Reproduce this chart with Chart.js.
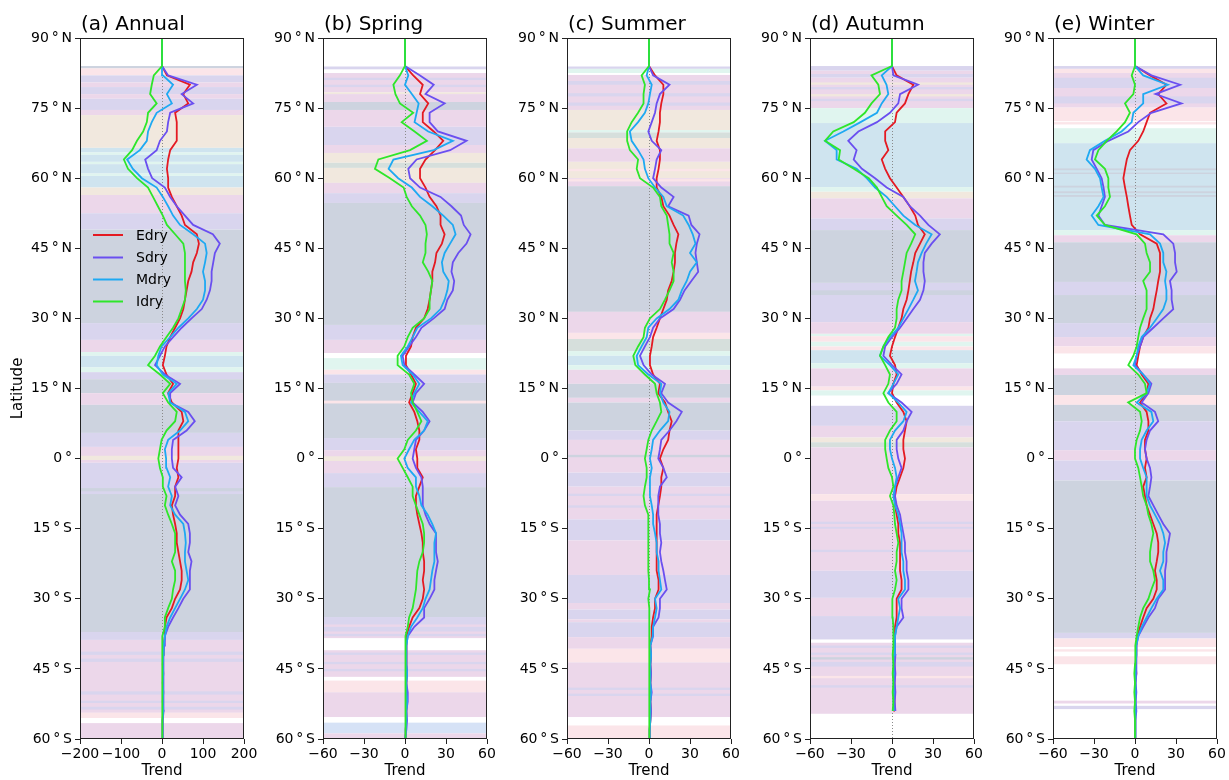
<!DOCTYPE html>
<html lang="en">
<head>
<meta charset="UTF-8">
<title>Latitudinal trend profiles</title>
<script src="https://cdn.jsdelivr.net/npm/chart.js"></script>
<style>
  body { margin: 0; background: #fff; width: 1229px; height: 780px; overflow: hidden; }
  .panel { position: absolute; top: 0; width: 259px; height: 780px; }
</style>
</head>
<body>
<div class="panel" style="left:5px"><canvas id="p0"></canvas></div>
<div class="panel" style="left:248px"><canvas id="p1"></canvas></div>
<div class="panel" style="left:492px"><canvas id="p2"></canvas></div>
<div class="panel" style="left:735px"><canvas id="p3"></canvas></div>
<div class="panel" style="left:978px"><canvas id="p4"></canvas></div>

<script>
// latitude of every sample, south to north
const lats = [
  -60,-58,-56,-54,-52,-50,-48,-46,-44,-42,
  -40,-38,-36,-34,-32,-30,-28,-26,-24,-22,
  -20,-18,-16,-14,-12,-10,-8,-6,-4,-2,
  0,2,4,6,8,10,12,14,16,18,
  20,22,24,26,28,30,32,34,36,38,
  40,42,44,46,48,50,52,54,56,58,
  60,62,64,66,68,70,72,74,76,78,
  80,82,84,86,88,90];

const panelTitles = ['(a) Annual', '(b) Spring', '(c) Summer', '(d) Autumn', '(e) Winter'];
const seriesNames = ['Edry', 'Sdry', 'Mdry', 'Idry'];
const latTicks = [-60, -45, -30, -15, 0, 15, 30, 45, 60, 75, 90];
const trendTicksAnnual = [-200, -100, 0, 100, 200];
const trendTicksSeason = [-60, -30, 0, 30, 60];

// (a) Annual
const edryAnnual = [
  0,1,2,3,2,3,2,3,2,3,
  4,7,7,11,24,32,44,48,48,44,
  40,36,36,32,27,24,32,32,40,36,
  40,40,40,40,52,48,24,15,27,11,
  2,7,11,20,32,44,52,56,60,64,
  72,76,85,90,85,56,48,36,24,15,
  15,12,15,20,36,36,36,32,64,52,
  68,12,0,0,0,0];
const sdryAnnual = [
  0,1,2,4,3,4,3,4,3,4,
  5,7,15,27,40,52,68,68,68,72,
  64,68,68,64,44,32,40,32,48,27,
  24,24,27,60,80,64,20,20,44,7,
  -17,-5,7,27,48,72,97,109,117,121,
  121,125,129,141,124,76,56,36,20,7,
  -24,-34,-41,-13,-5,12,15,20,76,48,
  85,15,0,0,0,0];
const mdryAnnual = [
  0,1,2,3,2,3,2,3,2,3,
  4,7,11,20,32,44,56,64,60,56,
  56,58,56,52,32,20,24,15,20,11,
  10,7,15,44,64,56,20,15,36,2,
  -13,-9,-1,20,40,64,85,100,105,105,
  100,105,109,105,76,44,27,15,2,-13,
  -49,-71,-85,-54,-37,-34,-25,-13,24,12,
  27,2,0,0,0,0];
const idryAnnual = [
  0,0,0,1,0,1,0,1,0,1,
  2,2,7,7,15,24,27,32,32,24,
  32,32,32,24,15,7,11,2,2,-5,
  -9,-5,-1,11,32,36,15,2,20,-5,
  -34,-17,-5,11,27,40,48,56,58,56,
  56,56,56,52,32,12,2,-10,-22,-34,
  -61,-83,-93,-73,-61,-46,-37,-34,-13,-29,
  -25,-20,0,0,0,0];

// (b) Spring
const edrySpring = [
  0,0.5,1,1,1.5,1,1,1.5,1,1,
  1,1.2,3,5.6,10.5,13,14,13,14,14,
  13,13,12,10.5,9,8,8,10.5,13,9,
  9,8,10.5,10.5,9,6.8,3,5.6,8,4.4,
  0.7,0.7,4.4,5.6,8,14,16.6,18,19,20,
  20,22,23,27,29,26,26,23,18,15,
  11,11,15,22,28,21,13,13,17,11,
  13,6,0,0,0,0];
const sdrySpring = [
  0,1,1.5,1,2,2,1,1.5,1,1,
  1,2,6.8,14,14,18,21.5,21.5,22.7,24,
  22.7,22.7,22.7,18,15,13,13,13,12,8,
  5.6,6.8,8,14,18,13,5.6,8,14,6.8,
  -0.5,-1.7,3,8,12,21,29,31,35,36,
  34,35,39,45,48,43,41,34,26,11,
  3.7,2.4,8.5,33,45,24,18,18,29,15,
  21,11,0,0,0,0];
const mdrySpring = [
  0,0.5,1,1,1.5,1,1,1.5,1,1,
  1,2,4.4,9,13,15,18,19,20,21.5,
  21.5,21.5,22.7,20,16.6,12,10.5,8,8,2,
  -0.5,3,6.8,14,16.6,10.5,4.4,6.8,10.5,5.6,
  -1.7,-3,2,5.6,9,19,26,29,31,32,
  28,27,29,33,37,35,28,20,11,5,
  -5,-12,-8.5,21,35,17,7,8.5,10,5,
  0,2.4,0,0,0,0];
const idrySpring = [
  0,0,0.5,0,0.5,0,0.5,0,0.5,0.5,
  0.7,0.7,2,3,5.6,6.8,8,8.5,9,10.5,
  13,14,14,13,10.5,8,5.6,5.6,2,-1.7,
  -5.4,-0.5,2,8,12,9,5.6,4.4,6.8,3,
  -5.4,-5.4,-0.5,2,5.6,14,18,18,19,20,
  17,13,15,15,16,15,11,5,1.2,-1,
  -11,-22,-19.5,3.7,16,7,-2.4,6,-3.7,-7,
  -8.5,-3.7,0,0,0,0];

// (c) Summer
const edrySummer = [
  0,0.5,1,1.5,1,1.5,1,1.5,1,1.5,
  1,2,2,3,4.4,4.4,7,7,5.6,5.6,
  5.6,5.6,5.6,5.6,5.6,6.8,8,9,9,10.5,
  8,10.5,14,15,16.6,14,11.7,6.8,8,3,
  0.7,0.7,2,3,5.6,8,10.5,13,14,16.6,
  18,19,19,20,21.5,18,15,10.5,9,5.6,
  5.6,7,8,8,5.6,7,8,8,9,10.5,
  10.5,4.4,0,0,0,0];
const sdrySummer = [
  0,0.5,1,1.5,1,2,1,1.5,1,1.5,
  1,3,3,7,8,8,13,11.7,10.5,9,
  8,9,8,8,6.8,6.8,6.8,8,13,10.5,
  6.8,8,9,15,20,24,14,9,11.7,2,
  -4,-6.6,-3,0.7,3,8,18,22.7,26,31,
  36,35,34,35,37,31,29,14,18,9,
  3,4.4,5.6,9,2,-0.5,2,4.4,5.6,8,
  15,3,0,0,0,0];
const mdrySummer = [
  0,0.5,1,1,1,1.5,1,1,1,1.5,
  1,2.7,3,4.4,5.6,4.4,9,8,7,7,
  5.6,5.6,4.4,3,3,2,0.7,0.7,0.7,2,
  0.7,2,3,8,14,15,10.5,8,9,-0.5,
  -8,-9,-5.4,-1.7,-0.5,5.6,15,21.5,24,27.6,
  30,35,30,34,32,29,25,13,10.5,4.4,
  -0.5,-3,-4,-8,-12.7,-14,-8,-3,-0.5,0.7,
  2,-1.7,0,0,0,0];
const idrySummer = [
  0,0,0.5,0,0.5,0,0.5,0,0.5,0,
  0.5,0.7,0,0,0,-0.5,0.7,0,-0.5,-0.5,
  -0.5,-0.5,-0.5,-0.5,-0.5,-3,-4,-3,-1.7,-1.7,
  -3,-1.7,-0.5,2,5.6,9,8,5.6,4.4,-3,
  -10,-11.5,-8,-4,-3,0.7,8,11.7,15,18,
  18,16.6,18,15,15,14,13,9,8,3,
  -6.6,-9,-8,-14,-16,-16,-12.7,-8,-4,-4,
  -3,-5.4,0,0,0,0];

// (d) Autumn, no data south of 55S
const edryAutumn = [
  null,null,null,2,1.5,2,1.5,2,1.5,2,
  2,2.2,2.2,3.4,3.4,3.4,7,7,5.9,5.9,
  5.9,5.9,4.6,4.6,3.4,2.2,2.2,3.4,5.9,8.3,
  9.5,8.3,8.3,9.5,10.7,8.3,3.4,0,1,3.4,
  2.2,-1.5,0,2.2,4.6,7,8.3,10.7,12,13,
  14,15.6,17,20.5,24,19,17,13,8.3,3.4,
  -1.5,-5,-7.5,-2.7,-5,-5,2.2,3.4,9.5,12,
  15.6,3.4,0,0,0,0];
const sdryAutumn = [
  null,null,null,2.5,2,2.5,2,2.5,2,2.5,
  2.2,2.2,3.4,8.3,7,7,12,12,10.7,10.7,
  9.5,9.5,8.3,7,5.9,3.4,2.2,2.2,4.6,7,
  4.6,3.4,3.4,8.3,10.7,14.4,7,-2.7,3.4,7,
  0,-6.3,-5,0,5.9,10.7,15.6,20.5,23,24,
  23,23,24,29,35,26.6,20.5,13,8.3,-3.9,
  -12.4,-22,-28,-25.9,-32,-24.6,-11,-1.5,4.6,5.9,
  19,1,0,0,0,0];
const mdryAutumn = [
  null,null,null,1.5,1,1.5,1,1.5,1,1.5,
  2,2.2,3.4,4.6,5.9,4.6,9.5,9.5,8.3,8.3,
  7,7,7,5.9,4.6,2.2,1,2.2,3.4,2.2,
  0,-1.5,-1.5,2.2,8.3,10.7,4.6,-2.7,1,4.6,
  -1.5,-8.8,-6.3,-1.5,4.6,8.3,12,15.6,19,16.8,
  18,19,21.7,25,29,17,8.3,2.2,-3.9,-12.4,
  -18.5,-25.9,-40.5,-40.5,-49,-35.6,-23,-11,-7.5,-2.7,
  -4,-7.5,0,0,0,0];
const idryAutumn = [
  null,null,null,0.5,1,0.5,1,0.5,1,0.5,
  1,1,1,0.5,0.5,0,2.2,3.4,2.2,3.4,
  3.4,4.6,3.4,2.2,1.7,1,-1.5,1,0,-2.7,
  -3.9,-5,-5,-1.5,3.4,3.4,-2.7,-6.3,-2.7,-1.5,
  -5,-8.8,-6.3,-2.7,2.2,3.4,3.4,4.6,7,7,
  8.3,9.5,10.7,14,17,10.7,3.4,-3.9,-7.5,-11,
  -17,-28,-39,-38,-49,-43,-28,-19.8,-15,-8.8,
  -10,-15,0,0,0,0];

// (e) Winter
const edryWinter = [
  0,0.5,0,0.5,0,0.5,0,1,0.5,1,
  1,1.7,3.7,6,8.5,13.4,15.9,15.9,14.6,15.9,
  17,17,15.9,13.4,11,8.5,7.3,6,8.5,7.3,
  8.5,7.3,7.3,9.8,9.8,8.5,3.7,8.5,9.8,4.9,
  1.2,2.4,3.7,6,9.8,11,13.4,14.6,15.9,17,
  18.3,18.3,18.3,15.9,3.7,-2.4,-3.7,-4.9,-6,-7.3,
  -8.5,-7.3,-6,-3.7,2.4,6,8.5,11,23,17,
  23,11,0,0,0,0];
const sdryWinter = [
  0,0.5,0,1,0.5,1,0.5,1,1,1,
  1,2.4,6,9.8,14.6,17,22,22,22,23,
  23,24.4,25.6,20.7,17,13.4,9.8,11,12,11,
  8.5,7.3,8.5,11,17,14.6,4.9,9.8,12,6,
  0,1.2,3.7,6,13.4,20.7,28,26.8,26.8,25.6,
  30.5,29.3,29.3,28,20.7,-22,-26.8,-24.4,-22,-23,
  -24.4,-28,-31.7,-30.5,-19.5,-4.9,2.4,12,34,15,
  33,12,0,0,0,0];
const mdryWinter = [
  0,0.5,0,0.5,0,0.5,0,0.5,0.5,1,
  1,2.4,4.9,8.5,12,15.9,20.7,20.7,18.3,20.7,
  20.7,22,20.7,18.3,14.6,11,8.5,8.5,8.5,6,
  3.7,3.7,4.9,8.5,13.4,12,1.2,8.5,11,6,
  -1.2,1.2,2.4,4.9,11,15.9,20.7,23,23,22,
  23,20.7,20.7,18.3,11,-26.8,-31.7,-26.8,-23,-24.4,
  -25.6,-29.3,-35.4,-33,-22,-9.8,-2.4,-1.2,6,6,
  24,6,0,0,0,0];
const idryWinter = [
  0,0,0,-0.5,0,-0.5,0,-0.5,0,0,
  0.5,1.2,2.4,3.7,6,9.8,12,14.6,13.4,11,
  11,12,13.4,12,9.8,8.5,6,4.9,3.7,2.4,
  0,0,1.2,3.7,4.9,3.7,-5,8.5,7.3,2.4,
  -4.9,-1.2,1.2,2.4,3.7,6,8.5,8.5,8.5,6,
  11,11,8.5,7.3,1.2,-22,-28,-22,-18.3,-19.5,
  -19.5,-22,-29.3,-26.8,-20.7,-13.4,-7.3,-3.7,-7.3,-1.2,
  0,-2.4,0,0,0,0];

// dominant-class shading per latitude band: [north, south, class]
const bandsAnnual = [
  [84,83.5,'S'],[83.5,82,'R'],[82,80.5,'L'],[80.5,79.5,'P'],[79.5,78,'L'],[78,77,'P'],[77,74.6,'L'],
  [74.6,73.5,'P'],[73.5,66.5,'E'],[66.5,65.5,'B'],[65.5,65,'M'],[65,63.5,'B'],[63.5,63,'M'],[63,61,'B'],
  [61,60.5,'M'],[60.5,58,'B'],[58,56.4,'E'],[56.4,52.5,'P'],[52.5,49,'L'],[49,29,'S'],[29,25.4,'L'],
  [25.4,22.8,'P'],[22.8,22,'M'],[22,19.5,'B'],[19.5,18.5,'M'],[18.5,17,'L'],[17,14,'S'],[14,11.5,'P'],
  [11.5,5.5,'S'],[5.5,2.5,'L'],[2.5,-0.9,'P'],[0.6,-0.3,'E'],[-0.9,-6.3,'L'],[-6.3,-37.1,'S'],[-7,-7.6,'L'],
  [-37.1,-38.8,'L'],[-38.8,-54.4,'P'],[-41.3,-42,'L'],[-42.8,-43.5,'L'],[-49.8,-50.5,'L'],[-51.8,-52.3,'L'],
  [-53.1,-53.7,'L'],[-54.4,-55.5,'R'],[-56.6,-60,'P']];
const bandsSpring = [
  [83.9,83.3,'L'],[82.5,78.4,'P'],[81.5,81,'L'],[80,79.5,'L'],[78.4,78,'E'],[78,76.3,'P'],[76.3,74.6,'S'],
  [74.6,71,'P'],[71,67.1,'L'],[67.1,65.4,'P'],[65.4,63.3,'E'],[63.3,62.2,'G'],[62.2,59,'E'],[59,56.8,'P'],
  [56.8,54.7,'L'],[54.7,28.6,'S'],[28.6,25.4,'L'],[25.4,22.6,'P'],[21.5,19,'M'],[19,18,'R'],[18,16.2,'L'],
  [16.2,4.4,'S'],[12.4,11.8,'R'],[4.4,1.8,'L'],[1.8,-3.1,'P'],[0.5,-0.5,'E'],[-3.1,-6.1,'L'],[-6.1,-33.9,'S'],
  [-33.9,-38.4,'L'],[-35.5,-36,'P'],[-37,-37.5,'P'],[-38,-38.4,'P'],[-41,-46.7,'P'],[-41.5,-42,'L'],
  [-43.5,-44,'L'],[-45,-45.5,'L'],[-47.5,-50,'R'],[-50,-55.3,'P'],[-56.5,-58.8,'W'],[-58.8,-60,'P']];
const bandsSummer = [
  [83.9,83.4,'L'],[83.4,82.5,'M'],[82.1,74.6,'P'],[80.8,80,'L'],[78.2,77.5,'L'],[76.2,75.5,'L'],
  [74.6,70.3,'E'],[70.3,69.8,'M'],[69.8,68.6,'G'],[68.6,66.4,'E'],[66.4,63.5,'P'],[63.5,60,'E'],[62,61.5,'R'],
  [60,58.3,'P'],[59.8,59.3,'R'],[58.3,31.4,'S'],[31.4,26.9,'P'],[26.9,25.6,'R'],[25.6,23,'G'],[23,22,'M'],
  [22,20,'B'],[20,19,'M'],[19,16,'P'],[16,13,'S'],[13,12,'P'],[12,6,'S'],[6,4,'L'],[4,-3,'P'],[0.8,0.3,'S'],
  [-3,-6,'L'],[-6,-13,'P'],[-7.5,-8,'L'],[-10,-10.5,'L'],[-13,-17.5,'L'],[-17.5,-24.9,'P'],[-24.9,-30.9,'L'],
  [-30.9,-32.3,'P'],[-32.3,-34.4,'L'],[-34.4,-35,'P'],[-35,-38.2,'L'],[-38.2,-40.7,'P'],[-40.7,-43.6,'R'],
  [-43.6,-55.3,'P'],[-49,-49.5,'L'],[-50.3,-50.8,'L'],[-57.1,-60,'R']];
const bandsAutumn = [
  [84,83,'L'],[83,82.3,'P'],[82.3,81.5,'L'],[81.5,75,'P'],[80.5,80,'E'],[79.5,79,'L'],[78,77.5,'E'],
  [77,76.5,'L'],[75,71.8,'M'],[71.8,58.1,'B'],[58.1,57.1,'M'],[57.1,55.7,'E'],[55.7,51.4,'P'],[51.4,48.9,'L'],
  [48.9,37.6,'S'],[37.6,29.2,'L'],[36,35,'S'],[29.2,26.7,'P'],[26.7,26.2,'M'],[26.2,25,'R'],[25,24,'M'],
  [24,23.2,'R'],[23.2,20.4,'B'],[20.4,19.3,'M'],[19.3,15.4,'P'],[15.4,14.6,'R'],[14.6,13.5,'M'],[11.3,7,'L'],
  [7,4.5,'P'],[4.5,3.5,'E'],[3.5,2.4,'G'],[2.4,-7.6,'P'],[-7.6,-9,'R'],[-9,-24,'P'],[-13.5,-14,'L'],
  [-14.6,-15,'L'],[-19.5,-20,'L'],[-24,-29.8,'L'],[-29.8,-33.7,'P'],[-33.7,-38.7,'L'],[-39.4,-54.6,'P'],
  [-40,-40.5,'L'],[-41.5,-42,'L'],[-42.5,-43,'S'],[-43.5,-44.5,'L'],[-46.5,-47,'R'],[-48.5,-49,'L']];
const bandsWinter = [
  [84,83.4,'L'],[83.4,82.5,'R'],[82.5,75.1,'P'],[81.5,79.3,'L'],[77.5,76,'L'],[75.1,72.2,'R'],[72,71.5,'R'],
  [70.7,67.5,'M'],[67.5,48.9,'B'],[62.1,61.7,'S'],[61.2,60.9,'S'],[58.4,58,'S'],[57.2,56.8,'S'],[56.4,56,'S'],
  [48.9,47.8,'M'],[47.8,46.3,'P'],[46.3,37.8,'S'],[37.8,35,'L'],[35,29,'S'],[29,26,'L'],[26,24,'P'],
  [24,22.5,'R'],[19.3,17.9,'P'],[17.9,13.6,'S'],[13.6,11.5,'R'],[11.5,8,'S'],[8,1.8,'L'],[1.8,-0.4,'P'],
  [-0.4,-4.7,'L'],[-4.7,-37.3,'S'],[-37.3,-38.5,'L'],[-38.5,-40.3,'R'],[-40.8,-41.3,'R'],[-42.3,-44,'R'],
  [-51.8,-52.4,'P'],[-52.9,-53.6,'L']];

const bandColors = {
  P: '#ecd7ea', L: '#d9d5ee', S: '#cdd3df', B: '#cfe4ef', E: '#f1e8de',
  M: '#e0f5ef', R: '#fbe5e9', G: '#d6dfdc', W: '#d6e2f6'
};
const lineColors = ['#e41a22', '#6a4ff0', '#1ea9f2', '#2ee62a'];

Chart.defaults.font.family = "'DejaVu Sans', sans-serif";
Chart.defaults.color = '#000';

const panels = [
  { series: [edryAnnual, sdryAnnual, mdryAnnual, idryAnnual], bands: bandsAnnual, xTicks: trendTicksAnnual, legend: true, yTitle: 'Latitude' },
  { series: [edrySpring, sdrySpring, mdrySpring, idrySpring], bands: bandsSpring, xTicks: trendTicksSeason },
  { series: [edrySummer, sdrySummer, mdrySummer, idrySummer], bands: bandsSummer, xTicks: trendTicksSeason },
  { series: [edryAutumn, sdryAutumn, mdryAutumn, idryAutumn], bands: bandsAutumn, xTicks: trendTicksSeason },
  { series: [edryWinter, sdryWinter, mdryWinter, idryWinter], bands: bandsWinter, xTicks: trendTicksSeason }
];

const decoPlugin = {
  id: 'deco',
  beforeDatasetsDraw(chart, args, opts) {
    const { ctx, chartArea: a, scales: { x, y } } = chart;
    ctx.save();
    ctx.beginPath();
    ctx.rect(a.left, a.top, a.right - a.left, a.bottom - a.top);
    ctx.clip();
    opts.bands.forEach(([n, s, k]) => {
      const y1 = y.getPixelForValue(n), y2 = y.getPixelForValue(s);
      ctx.fillStyle = bandColors[k];
      ctx.fillRect(a.left, y1, a.right - a.left, y2 - y1);
    });
    const x0 = Math.round(x.getPixelForValue(0)) + 0.5;
    ctx.strokeStyle = '#8a8a8a';
    ctx.lineWidth = 1;
    ctx.setLineDash([1, 2]);
    ctx.beginPath();
    ctx.moveTo(x0, a.top);
    ctx.lineTo(x0, a.bottom);
    ctx.stroke();
    ctx.restore();
  },
  afterDraw(chart, args, opts) {
    const { ctx, chartArea: a } = chart;
    ctx.save();
    ctx.strokeStyle = '#222';
    ctx.lineWidth = 1;
    ctx.strokeRect(a.left + 0.5, a.top + 0.5, a.right - a.left - 1, a.bottom - a.top - 1);
    ctx.fillStyle = '#000';
    ctx.font = "20px 'DejaVu Sans'";
    ctx.textBaseline = 'alphabetic';
    ctx.fillText(opts.title, a.left + 1, 30);
    if (opts.legend) {
      ctx.font = "14px 'DejaVu Sans'";
      ctx.textBaseline = 'middle';
      const rows = [235, 257.5, 279.5, 301.5];
      seriesNames.forEach((name, i) => {
        ctx.strokeStyle = lineColors[i];
        ctx.lineWidth = 2;
        ctx.beginPath();
        ctx.moveTo(a.left + 13, rows[i]);
        ctx.lineTo(a.left + 43, rows[i]);
        ctx.stroke();
        ctx.fillText(name, a.left + 56, rows[i] + 1);
      });
    }
    ctx.restore();
  }
};

const minus = v => (v < 0 ? '\u2212' : '') + Math.abs(v);
const latLabel = v => v === 0 ? '0\u2009°' : Math.abs(v) + '\u2009°\u2009' + (v > 0 ? 'N' : 'S');

panels.forEach((p, idx) => {
  const datasets = p.series.map((vals, i) => ({
    label: seriesNames[i],
    data: lats.map((lat, j) => ({ x: vals[j], y: lat })).filter(d => d.x !== null),
    borderColor: lineColors[i],
    borderWidth: 1.8,
    pointRadius: 0,
    showLine: true,
    tension: 0,
    order: 4 - i
  }));
  const xMax = p.xTicks[p.xTicks.length - 1];
  new Chart(document.getElementById('p' + idx), {
    type: 'scatter',
    data: { datasets },
    options: {
      responsive: true,
      maintainAspectRatio: false,
      animation: false,
      layout: { padding: { top: 38, right: 20, bottom: 0, left: 0 } },
      plugins: {
        legend: { display: false },
        tooltip: { enabled: false },
        deco: { bands: p.bands, title: panelTitles[idx], legend: !!p.legend }
      },
      scales: {
        x: {
          type: 'linear', min: -xMax, max: xMax,
          afterBuildTicks: s => { s.ticks = p.xTicks.map(v => ({ value: v })); },
          afterFit: s => { s.height = 41; },
          ticks: { font: { size: 14 }, padding: 2, maxRotation: 0, autoSkip: false, callback: minus },
          grid: { drawOnChartArea: false, drawTicks: true, tickLength: 5, color: '#222' },
          border: { display: false },
          title: { display: true, text: 'Trend', font: { size: 15 }, padding: { top: 0, bottom: 0 } }
        },
        y: {
          type: 'linear', min: -60, max: 90,
          afterBuildTicks: s => { s.ticks = latTicks.map(v => ({ value: v })); },
          afterFit: s => { s.width = 75; },
          ticks: { font: { size: 14 }, padding: 3, autoSkip: false, callback: latLabel },
          grid: { drawOnChartArea: false, drawTicks: true, tickLength: 5, color: '#222' },
          border: { display: false },
          title: { display: !!p.yTitle, text: p.yTitle || '', font: { size: 15 }, padding: { top: 4, bottom: 0 } }
        }
      }
    },
    plugins: [decoPlugin]
  });
});
</script>
</body>
</html>
